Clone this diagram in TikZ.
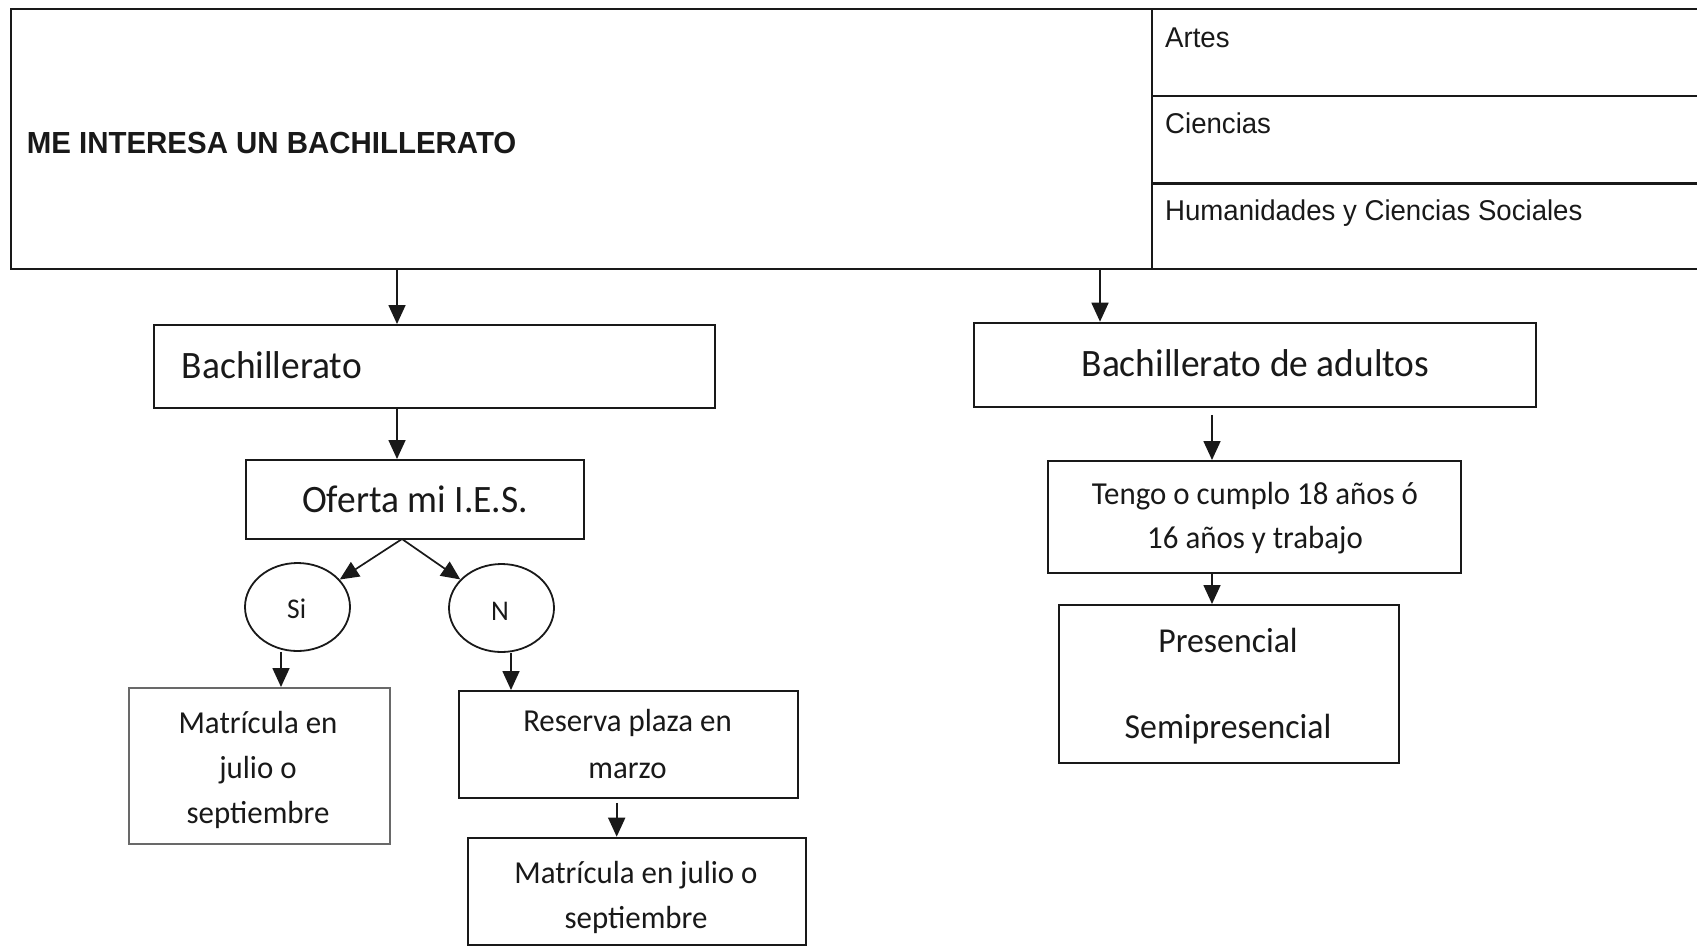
\documentclass[tikz,border=0pt]{standalone}
\usepackage{fontspec}
\setmainfont{Carlito}[FakeStretch=0.965]
\newfontfamily\arialn{Liberation Sans}[FakeStretch=0.965]
\usetikzlibrary{arrows.meta,shapes.geometric,calc}
\definecolor{ink}{RGB}{25,25,25}
\definecolor{soft}{RGB}{105,105,105}
\newcommand{\fbig}{\fontsize{38.8pt}{46pt}\selectfont}
\newcommand{\fmid}{\fontsize{32pt}{45pt}\selectfont}
\newcommand{\fpre}{\fontsize{35pt}{42.7pt}\selectfont}
\newcommand{\fsmall}{\fontsize{28.5pt}{34pt}\selectfont}
\newcommand{\fcell}{\arialn\fontsize{28.6pt}{34pt}\selectfont}
\newcommand{\ftitle}{\arialn\bfseries\fontsize{30.5pt}{36pt}\selectfont}
\begin{document}
\begin{tikzpicture}[x=1pt,y=-1pt,
  box/.style={draw=ink,line width=1.8pt,inner sep=0pt,anchor=north west},
  lbl/.style={inner sep=0pt,text=ink,anchor=base},
  lblw/.style={inner sep=0pt,text=ink,anchor=base west},
  arr/.style={draw=ink,line width=1.7pt,-{Triangle[length=19pt,width=17pt]}},
  oval/.style={ellipse,draw=ink,line width=1.8pt,minimum width=105pt,minimum height=88pt,inner sep=0pt}]
\useasboundingbox (0,0) rectangle (1697,946);
\clip (0,0) rectangle (1697,946);
\fill[white] (0,0) rectangle (1697,946);

% top table
\node[box,minimum width=1141pt,minimum height=260pt] (top) at (10,8) {};
\node[box,minimum width=600pt,minimum height=87pt] (artes) at (1151,8) {};
\node[box,minimum width=600pt,minimum height=87pt] (cien) at (1151,95) {};
\node[box,minimum width=600pt,minimum height=86pt] (hum) at (1151,182) {};
\draw[ink,line width=3pt] (cien.south west) -- (cien.south east);
\node[lblw,font=\ftitle] (title) at (26.7,153) {ME INTERESA UN BACHILLERATO};
\node[lblw,font=\fcell] (tartes) at (1165,47.5) {Artes};
\node[lblw,font=\fcell] (tcien) at (1165,133) {Ciencias};
\node[lblw,font=\fcell] (thum) at (1165,220) {Humanidades y Ciencias Sociales};

% left branch
\node[box,minimum width=561.3pt,minimum height=83pt] (bach) at (152.7,324) {};
\node[lblw,font=\fbig] (tbach) at (181.7,378) {Bachillerato};
\node[box,minimum width=338pt,minimum height=79pt] (ofe) at (245,459) {};
\node[lbl,font=\fbig] (tofe) at (415,512.7) {Oferta mi I.E.S.};
\node[oval] (si) at (297.5,607) {};
\node[lbl,font=\fsmall] (tsi) at (296.7,618) {Si};
\node[oval] (no) at (501.5,608) {};
\node[lbl,font=\fsmall] (tno) at (500,620) {N};
\node[box,draw=soft,line width=1.5pt,minimum width=261pt,minimum height=156pt] (mat1) at (128,687) {};
\node[lbl,font=\fmid] (m1a) at (258,733) {Matrícula en};
\node[lbl,font=\fmid] (m1b) at (258,778) {julio o};
\node[lbl,font=\fmid] (m1c) at (258,823) {septiembre};
\node[box,minimum width=339pt,minimum height=107pt] (res) at (458,690) {};
\node[lbl,font=\fmid] (r1) at (627.5,731.7) {Reserva plaza en};
\node[lbl,font=\fmid] (r2) at (627.5,778) {marzo};
\node[box,minimum width=338.3pt,minimum height=107.3pt] (mat2) at (466.7,836.7) {};
\node[lbl,font=\fmid] (m2a) at (636,883) {Matrícula en julio o};
\node[lbl,font=\fmid] (m2b) at (636,928) {septiembre};

% right branch
\node[box,minimum width=562pt,minimum height=84.3pt] (adu) at (973,321.7) {};
\node[lbl,font=\fbig] (tadu) at (1255.5,376) {Bachillerato de adultos};
\node[box,minimum width=413pt,minimum height=111.7pt] (ten) at (1047,460) {};
\node[lbl,font=\fmid] (te1) at (1255,504) {Tengo o cumplo 18 años ó};
\node[lbl,font=\fmid] (te2) at (1255,548) {16 años y trabajo};
\node[box,minimum width=339.7pt,minimum height=157.7pt] (pre) at (1058,604) {};
\node[lbl,font=\fpre] (p1) at (1228,652.7) {Presencial};
\node[lbl,font=\fpre] (p2) at (1228,738) {Semipresencial};

% connectors
\coordinate (xa) at (397,0);
\coordinate (xb) at (1100,0);
\coordinate (ap) at (402,539);
\coordinate (xs) at (281,0);
\coordinate (xn) at (511,0);
\coordinate (xr) at (616.7,0);
\coordinate (xt) at (1212,0);
\draw[arr] (top.south -| xa) -- (bach.north -| xa);
\draw[arr] (top.south -| xb) -- (adu.north -| xb);
\draw[arr] (bach.south -| xa) -- (ofe.north -| xa);
\draw[arr] (ap) -- (si);
\draw[arr] (ap) -- (no);
\draw[arr] (si.south -| xs) -- (mat1.north -| xs);
\draw[arr] (no.south -| xn) -- (res.north -| xn);
\draw[arr] ($(res.south -| xr)+(0,4)$) -- (mat2.north -| xr);
\draw[arr] ($(adu.south -| xt)+(0,7)$) -- (ten.north -| xt);
\draw[arr] (ten.south -| xt) -- (pre.north -| xt);
\end{tikzpicture}
\end{document}
